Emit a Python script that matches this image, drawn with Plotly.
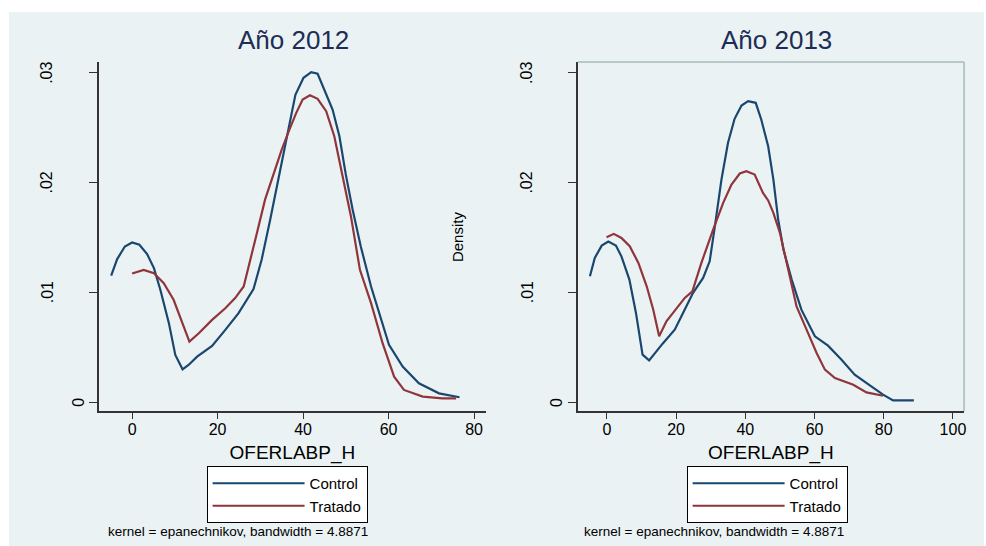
import plotly.graph_objects as go

# ---------------- data ----------------
panel_titles = ["Año 2012", "Año 2013"]
series_names = ["Control", "Tratado"]
x_title = "OFERLABP_H"
note_text = "kernel = epanechnikov, bandwidth = 4.8871"

x_ctrl_2012 = [-4.9, -3.5, -1.7, 0.0, 1.7, 3.5, 5.1, 6.6, 8.6, 10.1, 11.8, 13.2, 15.2, 18.7,
               21.8, 24.9, 28.4, 30.3, 32.3, 34.2, 36.2, 38.2, 40.1, 41.9, 43.4, 45.0, 46.9,
               48.5, 50.0, 51.6, 53.5, 55.9, 58.2, 60.1, 63.3, 67.1, 71.8, 76.6]
y_ctrl_2012 = [0.01153, 0.01303, 0.01418, 0.01455, 0.01434, 0.01349, 0.01221, 0.01023, 0.00719,
               0.00429, 0.00298, 0.00338, 0.00414, 0.00511, 0.00658, 0.00810, 0.01029, 0.01297,
               0.01662, 0.02027, 0.02393, 0.02800, 0.02956, 0.03008, 0.02993, 0.02849, 0.02667,
               0.02423, 0.02073, 0.01753, 0.01418, 0.01053, 0.00749, 0.00521, 0.00323, 0.00171,
               0.00079, 0.00043]

x_trat_2012 = [0.0, 2.7, 5.1, 7.4, 9.7, 12.1, 13.4, 15.6, 18.7, 21.8, 24.1, 26.1, 27.2, 29.2,
               31.1, 33.1, 35.0, 36.8, 38.4, 39.9, 41.6, 43.4, 45.4, 47.3, 49.2, 51.2, 53.3,
               55.9, 58.6, 61.3, 63.6, 68.0, 72.6, 75.8]
y_trat_2012 = [0.01172, 0.01205, 0.01175, 0.01084, 0.00932, 0.00688, 0.00551, 0.00627, 0.00749,
               0.00855, 0.00947, 0.01053, 0.01236, 0.01541, 0.01845, 0.02088, 0.02301, 0.02484,
               0.02636, 0.02758, 0.02797, 0.02764, 0.02651, 0.02423, 0.02058, 0.01692, 0.01205,
               0.00901, 0.00536, 0.00231, 0.00110, 0.00049, 0.00034, 0.00034]

x_ctrl_2013 = [-4.9, -3.5, -1.5, 0.4, 2.6, 4.2, 6.5, 8.4, 10.3, 12.2, 16.1, 19.6, 22.0, 24.9,
               27.8, 29.7, 31.2, 33.1, 35.0, 36.9, 38.9, 40.8, 43.0, 44.6, 46.6, 48.1, 49.5,
               51.0, 53.4, 56.2, 60.1, 63.9, 67.8, 71.6, 76.4, 79.8, 82.7, 88.7]
y_ctrl_2013 = [0.01146, 0.01314, 0.01426, 0.01463, 0.01426, 0.01328, 0.01116, 0.00812, 0.00432,
               0.00380, 0.00532, 0.00660, 0.00812, 0.00995, 0.01131, 0.01283, 0.01602, 0.02028,
               0.02363, 0.02582, 0.02703, 0.02743, 0.02728, 0.02576, 0.02332, 0.02030, 0.01663,
               0.01390, 0.01116, 0.00842, 0.00599, 0.00514, 0.00386, 0.00249, 0.00142, 0.00067,
               0.00015, 0.00015]

x_trat_2013 = [-0.1, 2.0, 4.2, 6.6, 9.1, 11.5, 13.4, 15.1, 17.2, 20.1, 22.5, 24.7, 27.3, 30.7,
               33.6, 36.0, 38.4, 40.3, 42.7, 45.1, 46.6, 48.1, 50.0, 52.4, 54.8, 57.7, 60.6,
               63.0, 65.9, 71.2, 75.0, 79.8]
y_trat_2013 = [0.01502, 0.01533, 0.01496, 0.01420, 0.01268, 0.01055, 0.00842, 0.00599, 0.00735,
               0.00858, 0.00949, 0.01009, 0.01268, 0.01572, 0.01816, 0.01983, 0.02083, 0.02104,
               0.02074, 0.01907, 0.01838, 0.01725, 0.01542, 0.01207, 0.00872, 0.00660, 0.00447,
               0.00295, 0.00219, 0.00158, 0.00088, 0.00057]

x_ticks_2012 = [0, 20, 40, 60, 80]
x_ticks_2013 = [0, 20, 40, 60, 80, 100]
y_ticks = [0, 0.01, 0.02, 0.03]
y_tick_labels = ["0", ".01", ".02", ".03"]

# ---------------- styling ----------------
W, H = 986, 546
BLUE = "#1a476f"
RED = "#90353b"
BG = "#eaf2f3"
TITLE_C = "#1e2d55"
FONT = "Liberation Sans, Arial, sans-serif"

def px_x(p):
    return p / W

def px_y(p):
    return 1 - p / H

fig = go.Figure()
panels = [
    (x_ctrl_2012, y_ctrl_2012, x_trat_2012, y_trat_2012, "x", "y", "legend"),
    (x_ctrl_2013, y_ctrl_2013, x_trat_2013, y_trat_2013, "x2", "y2", "legend2"),
]
for xc, yc, xt, yt, xa, ya, lg in panels:
    fig.add_trace(go.Scatter(x=xc, y=yc, mode="lines", name=series_names[0],
                             line=dict(color=BLUE, width=2.2), xaxis=xa, yaxis=ya, legend=lg))
    fig.add_trace(go.Scatter(x=xt, y=yt, mode="lines", name=series_names[1],
                             line=dict(color=RED, width=2.2), xaxis=xa, yaxis=ya, legend=lg))

ydom = [px_y(411), px_y(62)]
common_x = dict(ticks="outside", ticklen=6, tickcolor="#333", tickwidth=1.2,
                showline=True, linecolor="#333", linewidth=1.5, showgrid=False,
                zeroline=False, ticklabelstandoff=-3,
                tickfont=dict(size=16, color="black", family=FONT),
                title=dict(text=x_title, font=dict(size=19, color="black", family=FONT), standoff=9))
common_y = dict(range=[-0.00082, 0.03100], tickvals=y_ticks, showticklabels=False,
                ticks="outside", ticklen=8, tickcolor="#333", tickwidth=1.2,
                showline=True, linecolor="#333", linewidth=1.5, showgrid=True,
                gridcolor=BG, gridwidth=1.2, zeroline=False, domain=ydom)

legend_common = dict(yanchor="top", xanchor="left", bgcolor="white", bordercolor="black",
                     borderwidth=1, font=dict(size=15, family=FONT, color="black"),
                     itemwidth=92, tracegroupgap=0)
fig.update_layout(
    width=W, height=H, margin=dict(l=0, r=0, t=0, b=0),
    paper_bgcolor="white", plot_bgcolor="white",
    font=dict(family=FONT, color="black"),
    xaxis=dict(domain=[px_x(99), px_x(487)], range=[-7.8, 82.8], tickvals=x_ticks_2012,
               anchor="y", **common_x),
    xaxis2=dict(domain=[px_x(579), px_x(966)], range=[-8.4, 103.2], tickvals=x_ticks_2013,
                anchor="y2", **common_x),
    yaxis=dict(anchor="x", **common_y),
    yaxis2=dict(anchor="x2", **common_y),
    legend=dict(x=px_x(207), y=px_y(466), **legend_common),
    legend2=dict(x=px_x(688), y=px_y(466), **legend_common),
    showlegend=True,
)

shapes = [
    dict(type="rect", xref="paper", yref="paper", x0=px_x(9), x1=1, y0=0, y1=px_y(12),
         fillcolor=BG, line=dict(width=0), layer="below"),
    dict(type="line", xref="x2 domain", yref="y2 domain", x0=0, x1=1, y0=1, y1=1,
         line=dict(color="#a7b9b9", width=1.5)),
    dict(type="line", xref="x2 domain", yref="y2 domain", x0=1, x1=1, y0=0, y1=1,
         line=dict(color="#a7b9b9", width=1.5)),
]
fig.update_layout(shapes=shapes)

ann = []
for title, cx in zip(panel_titles, [294, 778]):
    ann.append(dict(text=title, xref="paper", yref="paper", x=px_x(cx), y=px_y(40),
                    xanchor="center", yanchor="middle", showarrow=False,
                    font=dict(size=26, color=TITLE_C, family=FONT)))
# rotated y tick labels
for yref, x_main, x_zero in [("y", 47, 78), ("y2", 528, 557)]:
    for v, t in zip(y_ticks, y_tick_labels):
        ann.append(dict(text=t, xref="paper", yref=yref, x=px_x(x_zero if t == "0" else x_main),
                        y=v, textangle=-90, xanchor="center", yanchor="middle", showarrow=False,
                        font=dict(size=16, color="black", family=FONT)))
ann.append(dict(text="Density", xref="paper", yref="paper", x=px_x(458), y=px_y(237),
                textangle=-90, showarrow=False, xanchor="center", yanchor="middle",
                font=dict(size=15, color="black", family=FONT)))
for x0 in [106, 583]:
    ann.append(dict(text=note_text, xref="paper", yref="paper", x=px_x(x0), y=px_y(531),
                    xanchor="left", yanchor="middle", showarrow=False,
                    font=dict(size=13.5, color="black", family=FONT)))
fig.update_layout(annotations=ann)

fig.write_html("out.html")
